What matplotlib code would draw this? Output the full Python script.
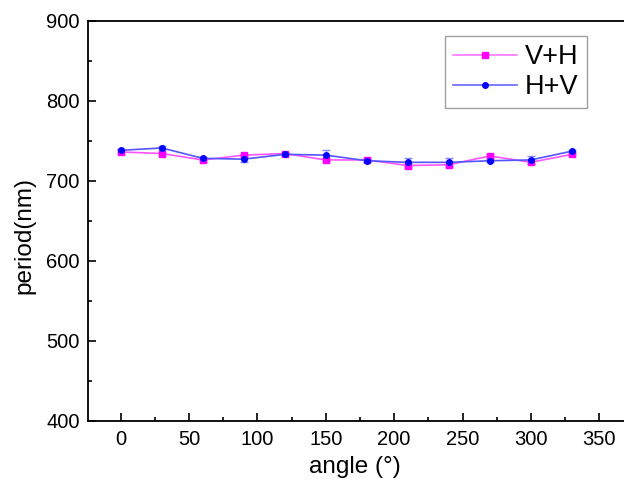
import matplotlib
matplotlib.use("Agg")
import matplotlib.pyplot as plt
from matplotlib.ticker import MultipleLocator

angle = [0, 30, 60, 90, 120, 150, 180, 210, 240, 270, 300, 330]
vh = [736, 734, 726, 732, 734, 726, 726, 719, 720, 731, 723, 733]
vh_err = [2, 2, 2, 2, 2, 2, 2, 3, 3, 2, 2, 2]
hv = [738, 741, 728, 727, 733, 732, 725, 723, 723, 725, 726, 737]
hv_err = [2, 2, 2, 4, 2, 7, 2, 6, 5, 2, 5, 2]


def main():
    plt.rcParams['font.family'] = ['Liberation Sans', 'DejaVu Sans']
    fig = plt.figure(figsize=(6.24, 4.86), dpi=100)
    ax = fig.add_axes([0.141, 0.1343, 0.885, 0.823])

    c1 = ax.errorbar(angle, vh, yerr=vh_err, color='#ff55ff', lw=1.2,
                     marker='s', ms=4, mfc='#ff00ff', mec='#ff00ff',
                     ecolor='#ff88ff', elinewidth=0.8, capsize=3)
    c2 = ax.errorbar(angle, hv, yerr=hv_err, color='#5555ff', lw=1.2,
                     marker='o', ms=4, mfc='#0000ff', mec='#0000ff',
                     ecolor='#8888ff', elinewidth=0.8, capsize=3)

    ax.set_xlim(-24, 380)
    ax.set_ylim(400, 900)
    ax.xaxis.set_major_locator(MultipleLocator(50))
    ax.xaxis.set_minor_locator(MultipleLocator(25))
    ax.yaxis.set_major_locator(MultipleLocator(100))
    ax.yaxis.set_minor_locator(MultipleLocator(50))
    ax.tick_params(which='both', direction='in', top=False, right=False,
                   labelsize=14.5, width=1.2)
    ax.tick_params(which='major', length=6)
    ax.tick_params(which='minor', length=3)
    ax.tick_params(axis='x', pad=7)
    ax.tick_params(axis='y', pad=6)
    for s in ax.spines.values():
        s.set_linewidth(1.3)

    ax.set_xlabel('angle (°)', fontsize=17.5)
    ax.set_ylabel('period(nm)', fontsize=17.5)
    ax.xaxis.set_label_coords(0.484, -0.088)
    ax.yaxis.set_label_coords(-0.096, 0.464)

    leg = ax.legend([c1[0], c2[0]], ['V+H', 'H+V'],
                    loc='upper left', bbox_to_anchor=(0.647, 0.962),
                    fontsize=19.5, fancybox=False, edgecolor='#888888',
                    handlelength=2.35, borderpad=0.3, labelspacing=0.15,
                    handletextpad=0.3, borderaxespad=0)
    leg.get_frame().set_linewidth(1.0)
    for h, c in zip(leg.get_lines(), ['#ff77ff', '#6666ff']):
        h.set_color(c)

    fig.savefig('out.png', dpi=100)


if __name__ == '__main__':
    main()
